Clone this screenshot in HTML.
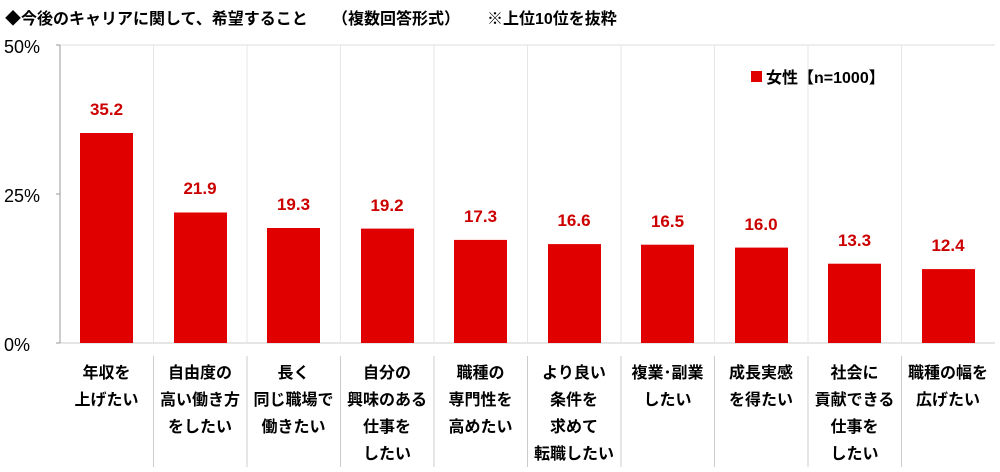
<!DOCTYPE html><html><head><meta charset="utf-8"><style>
body{margin:0;width:1000px;height:467px;background:#fff;font-family:"Liberation Sans","Noto Sans CJK JP",sans-serif;overflow:hidden}
</style></head><body>
<svg width="1000" height="467" xmlns="http://www.w3.org/2000/svg" font-family="Liberation Sans, Noto Sans CJK JP, sans-serif" font-weight="bold">
<text x="5" y="24" font-size="16" fill="#000">◆今後のキャリアに関して、希望すること</text>
<text x="332" y="24" font-size="16" fill="#000">（複数回答形式）</text>
<text x="487" y="24" font-size="16" fill="#000">※上位10位を抜粋</text>
<g font-size="18" fill="#000" font-weight="normal">
<text x="4" y="53">50%</text><text x="4" y="202">25%</text><text x="4" y="351">0%</text></g>
<line x1="60" y1="45" x2="995" y2="45" stroke="#ddd"/>
<line x1="60" y1="343" x2="995" y2="343" stroke="#ccc"/>
<line x1="60" y1="45" x2="60" y2="343" stroke="#999"/>
<line x1="56" y1="45" x2="60" y2="45" stroke="#999"/><line x1="56" y1="194" x2="60" y2="194" stroke="#999"/><line x1="56" y1="343" x2="60" y2="343" stroke="#999"/>
<g stroke="#e6e6e6">
<line x1="153.5" y1="45" x2="153.5" y2="343"/><line x1="247" y1="45" x2="247" y2="343"/><line x1="340.5" y1="45" x2="340.5" y2="343"/><line x1="434" y1="45" x2="434" y2="343"/><line x1="527.5" y1="45" x2="527.5" y2="343"/><line x1="621" y1="45" x2="621" y2="343"/><line x1="714.5" y1="45" x2="714.5" y2="343"/><line x1="808" y1="45" x2="808" y2="343"/><line x1="901.5" y1="45" x2="901.5" y2="343"/>
</g>
<g stroke="#ccc">
<line x1="153.5" y1="356" x2="153.5" y2="467"/><line x1="247" y1="356" x2="247" y2="467"/><line x1="340.5" y1="356" x2="340.5" y2="467"/><line x1="434" y1="356" x2="434" y2="467"/><line x1="527.5" y1="356" x2="527.5" y2="467"/><line x1="621" y1="356" x2="621" y2="467"/><line x1="714.5" y1="356" x2="714.5" y2="467"/><line x1="808" y1="356" x2="808" y2="467"/><line x1="901.5" y1="356" x2="901.5" y2="467"/>
</g>
<g fill="#e00000">
<rect x="80" y="133" width="53" height="210"/>
<rect x="174" y="212.5" width="53" height="130.5"/>
<rect x="267" y="228" width="53" height="115"/>
<rect x="361" y="228.6" width="53" height="114.4"/>
<rect x="454" y="239.9" width="53" height="103.1"/>
<rect x="548" y="244.1" width="53" height="98.9"/>
<rect x="641" y="244.7" width="53" height="98.3"/>
<rect x="735" y="247.6" width="53" height="95.4"/>
<rect x="828" y="263.7" width="53" height="79.3"/>
<rect x="922" y="269.1" width="53" height="73.9"/>
<rect x="751" y="71" width="11" height="11"/>
</g>
<text x="766" y="83" font-size="16" fill="#000">女性【n=1000】</text>
<g font-size="17" fill="#cc0000" text-anchor="middle">
<text x="106.5" y="115">35.2</text><text x="200" y="194">21.9</text><text x="293.5" y="210">19.3</text><text x="387" y="211">19.2</text><text x="480.5" y="222">17.3</text><text x="574" y="226">16.6</text><text x="667.5" y="227">16.5</text><text x="761" y="230">16.0</text><text x="854.5" y="246">13.3</text><text x="948" y="251">12.4</text>
</g>
<g font-size="16" fill="#000" text-anchor="middle">
<text x="106.5" y="378">年収を</text><text x="106.5" y="405">上げたい</text>
<text x="200" y="378">自由度の</text><text x="200" y="405">高い働き方</text><text x="200" y="432">をしたい</text>
<text x="293.5" y="378">長く</text><text x="293.5" y="405">同じ職場で</text><text x="293.5" y="432">働きたい</text>
<text x="387" y="378">自分の</text><text x="387" y="405">興味のある</text><text x="387" y="432">仕事を</text><text x="387" y="459">したい</text>
<text x="480.5" y="378">職種の</text><text x="480.5" y="405">専門性を</text><text x="480.5" y="432">高めたい</text>
<text x="574" y="378">より良い</text><text x="574" y="405">条件を</text><text x="574" y="432">求めて</text><text x="574" y="459">転職したい</text>
<text x="667.5" y="378">複業･副業</text><text x="667.5" y="405">したい</text>
<text x="761" y="378">成長実感</text><text x="761" y="405">を得たい</text>
<text x="854.5" y="378">社会に</text><text x="854.5" y="405">貢献できる</text><text x="854.5" y="432">仕事を</text><text x="854.5" y="459">したい</text>
<text x="948" y="378">職種の幅を</text><text x="948" y="405">広げたい</text>
</g>
</svg>
</body></html>
